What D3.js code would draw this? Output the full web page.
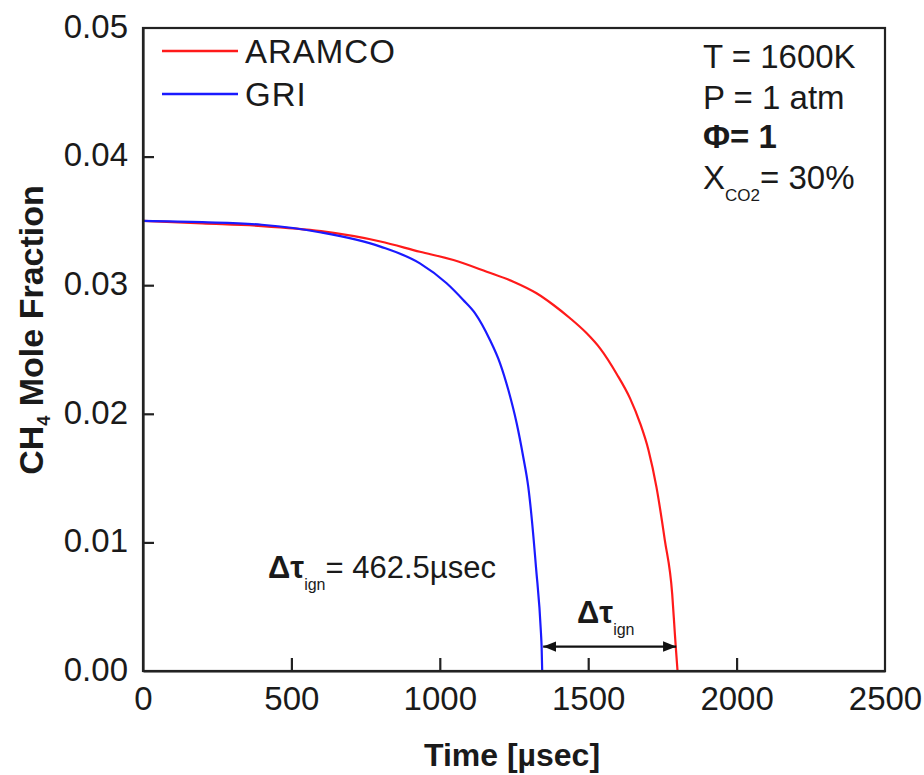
<!DOCTYPE html>
<html><head><meta charset="utf-8">
<script src="https://cdn.jsdelivr.net/npm/d3@7"></script>
<style>
body{margin:0;background:#fff;}
text{font-family:Arial,"Liberation Sans",sans-serif;fill:#1a1a1a;}
</style></head>
<body><svg id="c" width="924" height="775"></svg>
<script>
// ---- data ----
const timeGRI   = [0, 200, 400, 600, 800, 933, 1023, 1079, 1119, 1169, 1203, 1231, 1259, 1281, 1298, 1307, 1324, 1341, 1343, 1345];
const valueGRI  = [0.0350, 0.0349, 0.0347, 0.0341, 0.0330, 0.0317, 0.03015, 0.02885, 0.02781, 0.02574, 0.02393, 0.02185, 0.01926, 0.01666, 0.01433, 0.0125, 0.0081, 0.0029, 0.0019, 0.0000];
const timeARAMCO  = [0, 200, 400, 600, 800, 933, 1046, 1158, 1248, 1326, 1383, 1439, 1495, 1540, 1596, 1641, 1675, 1703, 1730, 1758, 1783, 1792, 1795, 1801];
const valueARAMCO = [0.0350, 0.0348, 0.0346, 0.0342, 0.0334, 0.0326, 0.03196, 0.03105, 0.03027, 0.02937, 0.02846, 0.02743, 0.02626, 0.02509, 0.0231, 0.0212, 0.01926, 0.01719, 0.0143, 0.0102, 0.0060, 0.0029, 0.0019, 0.0000];
const xTicks = [0, 500, 1000, 1500, 2000, 2500];
const yTicks = [0.00, 0.01, 0.02, 0.03, 0.04, 0.05];
const seriesNames = ["ARAMCO", "GRI"];
const seriesColors = ["#ff1a1a", "#1a1aff"];
const ignGRI = 1345, ignARAMCO = 1800, arrowLevel = 0.0019;

// ---- layout ----
const L = 143, R = 885, T = 28, B = 671;
const svg = d3.select("#c");
const x = d3.scaleLinear().domain([0, 2500]).range([L, R]);
const y = d3.scaleLinear().domain([0, 0.05]).range([B, T]);

const line = d3.line().x(d => x(d[0])).y(d => y(d[1])).curve(d3.curveMonotoneX);
const dGRI = timeGRI.map((t, i) => [t, valueGRI[i]]);
const dAR = timeARAMCO.map((t, i) => [t, valueARAMCO[i]]);

svg.append("path").datum(dAR).attr("d", line).attr("fill", "none")
  .attr("stroke", seriesColors[0]).attr("stroke-width", 2.2);
svg.append("path").datum(dGRI).attr("d", line).attr("fill", "none")
  .attr("stroke", seriesColors[1]).attr("stroke-width", 2.2);

// frame
svg.append("rect").attr("x", L).attr("y", T).attr("width", R - L).attr("height", B - T)
  .attr("fill", "none").attr("stroke", "#222").attr("stroke-width", 2.2);

// axes
const xa = svg.append("g").attr("transform", `translate(0,${B})`)
  .call(d3.axisBottom(x).tickValues(xTicks).tickSizeInner(-13).tickSizeOuter(0).tickPadding(16).tickFormat(d3.format("d")));
const ya = svg.append("g").attr("transform", `translate(${L},0)`)
  .call(d3.axisLeft(y).tickValues(yTicks).tickSizeInner(-11).tickSizeOuter(0).tickPadding(15).tickFormat(d3.format(".2f")));
[xa, ya].forEach(g => {
  g.select(".domain").attr("stroke", "#222").attr("stroke-width", 2.2);
  g.selectAll(".tick line").attr("stroke", "#222").attr("stroke-width", 2.2);
  g.selectAll(".tick text").attr("font-size", 33).attr("fill", "#1a1a1a")
    .style("font-family", 'Arial,"Liberation Sans",sans-serif');
});
xa.selectAll(".tick line").filter(d => d === 0 || d === 2500).remove();
ya.selectAll(".tick line").filter(d => d === 0 || d === 0.05).remove();
ya.selectAll(".tick text").attr("dy", "0.28em");

// axis titles
svg.append("text").attr("x", 512).attr("y", 766).attr("text-anchor", "middle")
  .attr("font-size", 32).attr("font-weight", "bold").text("Time [µsec]");
const yt = svg.append("text").attr("transform", "translate(43,330) rotate(-90)")
  .attr("text-anchor", "middle").attr("font-size", 34).attr("font-weight", "bold");
yt.append("tspan").text("CH");
yt.append("tspan").attr("font-size", 18).attr("dy", 7).text("4");
yt.append("tspan").attr("dy", -7).text(" Mole Fraction");

// legend
seriesNames.forEach((n, i) => {
  const yy = 51 + i * 43;
  svg.append("line").attr("x1", 162).attr("x2", 238).attr("y1", yy).attr("y2", yy)
    .attr("stroke", seriesColors[i]).attr("stroke-width", 2.4);
  svg.append("text").attr("x", 245).attr("y", yy + 12).attr("font-size", 33)
    .attr("letter-spacing", 1).text(n);
});

// conditions text
const cx = 703;
svg.append("text").attr("x", cx).attr("y", 68).attr("font-size", 33).text("T = 1600K");
svg.append("text").attr("x", cx).attr("y", 109).attr("font-size", 33).text("P = 1 atm");
svg.append("text").attr("x", cx).attr("y", 148).attr("font-size", 33).attr("font-weight", "bold").text("Φ= 1");
const xc = svg.append("text").attr("x", cx).attr("y", 189).attr("font-size", 33);
xc.append("tspan").text("X");
xc.append("tspan").attr("font-size", 17).attr("dy", 12).text("CO2");
xc.append("tspan").attr("dy", -12).text("= 30%");

// annotation
const a1 = svg.append("text").attr("x", 268).attr("y", 578).attr("font-size", 31);
a1.append("tspan").attr("font-weight", "bold").text("Δτ");
a1.append("tspan").attr("font-size", 16).attr("dy", 12).text("ign");
a1.append("tspan").attr("dy", -12).text("= 462.5µsec");

const a2 = svg.append("text").attr("x", 577).attr("y", 623).attr("font-size", 31);
a2.append("tspan").attr("font-weight", "bold").text("Δτ");
a2.append("tspan").attr("font-size", 16).attr("dy", 12).text("ign");

svg.append("defs").append("marker").attr("id", "ah").attr("viewBox", "0 0 10 10")
  .attr("refX", 10).attr("refY", 5).attr("markerWidth", 6).attr("markerHeight", 6)
  .attr("orient", "auto-start-reverse").attr("markerUnits", "strokeWidth")
  .append("path").attr("d", "M0,1 L10,5 L0,9 Z").attr("fill", "#111");
svg.append("line").attr("x1", x(ignGRI) + 1).attr("x2", x(ignARAMCO) - 1)
  .attr("y1", y(arrowLevel)).attr("y2", y(arrowLevel))
  .attr("stroke", "#111").attr("stroke-width", 2.2)
  .attr("marker-start", "url(#ah)").attr("marker-end", "url(#ah)");
</script></body></html>
